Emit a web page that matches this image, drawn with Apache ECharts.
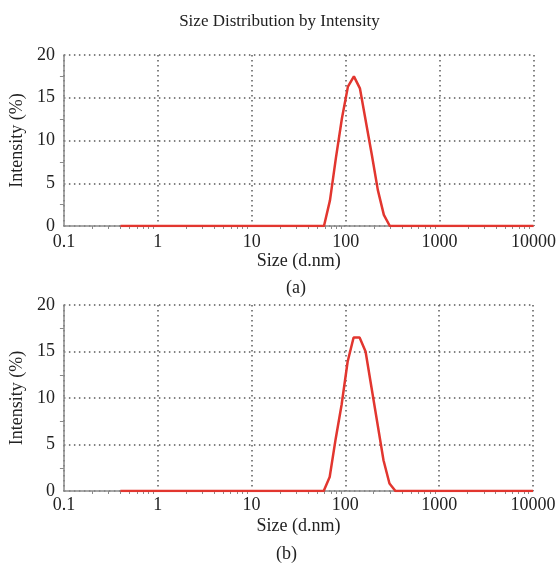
<!DOCTYPE html>
<html>
<head>
<meta charset="utf-8">
<script src="https://cdn.jsdelivr.net/npm/echarts@6/dist/echarts.min.js"></script>
<style>html,body{margin:0;padding:0;background:#fff}#c{width:559px;height:566px}</style>
</head>
<body>
<div id="c"></div>
<script>
var xTicks = [0.1, 1, 10, 100, 1000, 10000];
var yTicks = [0, 5, 10, 15, 20];
var sizesA = [0.4, 58.77, 68.06, 78.82, 91.28, 105.7, 122.4, 141.8, 164.2, 190.1, 220.2, 255.0, 295.3, 10000];
var intensityA = [0, 0, 3.0, 8.0, 12.6, 16.3, 17.5, 16.1, 12.2, 8.3, 4.2, 1.3, 0, 0];
var sizesB = [0.4, 58.77, 68.06, 78.82, 91.28, 105.7, 122.4, 141.8, 164.2, 190.1, 220.2, 255.0, 295.3, 342.0, 10000];
var intensityB = [0, 0, 1.5, 5.6, 9.3, 13.9, 16.5, 16.5, 15.0, 11.1, 7.2, 3.3, 0.8, 0, 0];

var FONT = '"Liberation Serif", "Times New Roman", serif';
var RED = '#e2362f';

function pairs(xs, ys) { return xs.map(function (x, i) { return [x, ys[i]]; }); }

function xAxis(idx, gap, margin) {
  return {
    type: 'log', logBase: 10, gridIndex: idx, min: xTicks[0], max: xTicks[xTicks.length - 1],
    name: 'Size (d.nm)', nameLocation: 'middle', nameGap: gap,
    nameTextStyle: { fontFamily: FONT, fontSize: 18, color: '#222' },
    axisLine: { show: true, onZero: false, lineStyle: { color: '#8a8a8a', width: 1.5 } },
    axisTick: { show: false },
    minorTick: { show: true, splitNumber: 9, length: 3, lineStyle: { color: '#8a8a8a', width: 1 } },
    axisLabel: { fontFamily: FONT, fontSize: 18, color: '#222', margin: margin,
      formatter: function (v) { return String(v); } },
    splitLine: { show: true, lineStyle: { color: '#5a5a5a', width: 1.5, type: [1.5, 3.5] } }
  };
}
function yAxis(idx, gap) {
  return {
    type: 'value', gridIndex: idx, min: yTicks[0], max: yTicks[yTicks.length - 1], interval: 5,
    name: 'Intensity (%)', nameLocation: 'middle', nameGap: gap, nameRotate: 90,
    nameTextStyle: { fontFamily: FONT, fontSize: 18, color: '#222' },
    axisLine: { show: true, lineStyle: { color: '#8a8a8a', width: 1.5 } },
    axisTick: { show: false },
    minorTick: { show: true, splitNumber: 2, length: 4, lineStyle: { color: '#8a8a8a', width: 1 } },
    axisLabel: { fontFamily: FONT, fontSize: 18, color: '#222', margin: 9 },
    splitLine: { show: true, lineStyle: { color: '#5a5a5a', width: 1.5, type: [1.5, 3.5] } }
  };
}

var chart = echarts.init(document.getElementById('c'), null, { renderer: 'canvas' });
chart.setOption({
  animation: false,
  backgroundColor: '#fff',
  title: [
    { text: 'Size Distribution by Intensity', left: 'center', top: 8,
      textStyle: { fontFamily: FONT, fontSize: 17, fontWeight: 'normal', color: '#222' } },
    { text: '(a)', left: 281, top: 274,
      textStyle: { fontFamily: FONT, fontSize: 18, fontWeight: 'normal', color: '#222' } },
    { text: '(b)', left: 271, top: 540,
      textStyle: { fontFamily: FONT, fontSize: 18, fontWeight: 'normal', color: '#222' } }
  ],
  grid: [
    { left: 63, right: 22, top: 55, bottom: 340 },
    { left: 58, right: 26, top: 305, bottom: 75 }
  ],
  xAxis: [xAxis(0, 16, 7), xAxis(1, 26, 5)],
  yAxis: [yAxis(0, 36), yAxis(1, 31)],
  series: [
    { type: 'line', xAxisIndex: 0, yAxisIndex: 0, data: pairs(sizesA, intensityA),
      showSymbol: false, lineStyle: { color: RED, width: 2.5 }, z: 5 },
    { type: 'line', xAxisIndex: 1, yAxisIndex: 1, data: pairs(sizesB, intensityB),
      showSymbol: false, lineStyle: { color: RED, width: 2.5 }, z: 5 }
  ]
});
</script>
</body>
</html>
